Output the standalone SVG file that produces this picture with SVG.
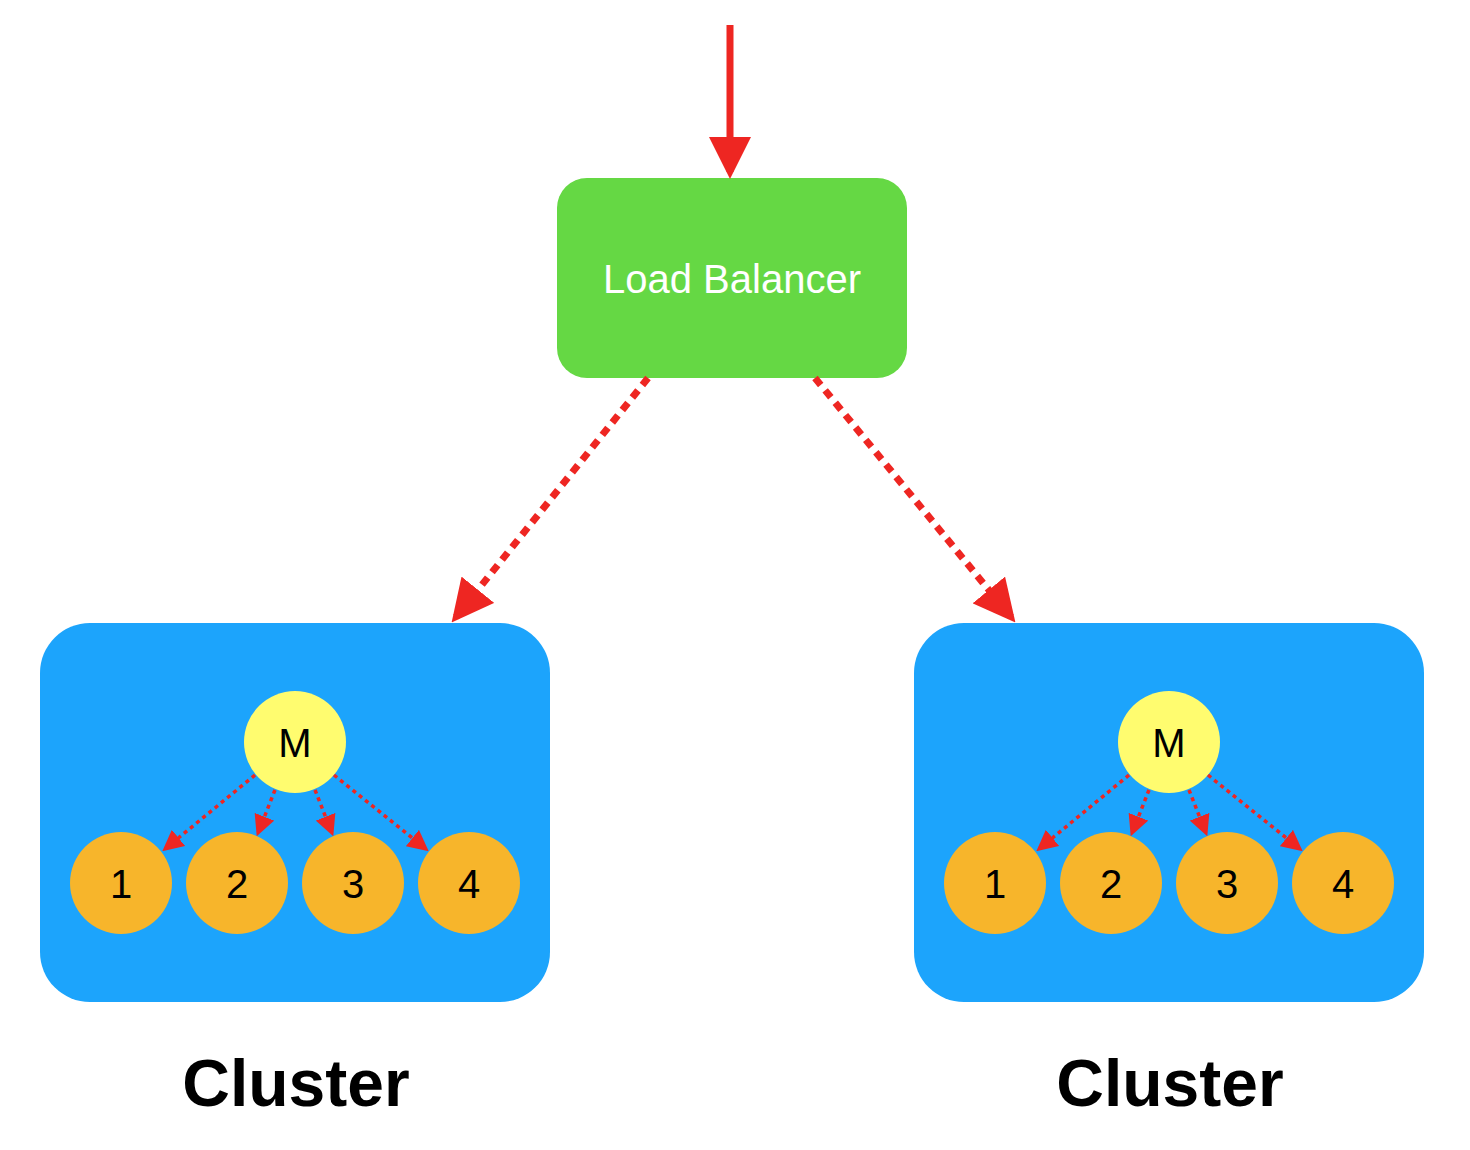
<svg xmlns="http://www.w3.org/2000/svg" width="1470" height="1150" viewBox="0 0 1470 1150">
<style>
.box{fill:#1ca4fc}
.m{fill:#fffc6f}
.w{fill:#f7b52b}
.t{font-family:"Liberation Sans",Arial,sans-serif;font-size:40px;text-anchor:middle;fill:#000}
.big{stroke:#ee2622;stroke-width:7;stroke-dasharray:9 7;fill:none}
.sm{stroke:#ee2622;stroke-width:3.5;stroke-dasharray:4 4;fill:none}
.lbl{font-family:"Liberation Sans",Arial,sans-serif;font-weight:bold;font-size:66px;text-anchor:middle}
</style>
<defs>
<marker id="ab" markerWidth="6" markerHeight="6" refX="5" refY="3" orient="auto" markerUnits="strokeWidth"><path d="M0,0 L6,3 L0,6 Z" fill="#ee2622"/></marker>
<marker id="as" markerWidth="6" markerHeight="6" refX="5" refY="3" orient="auto" markerUnits="strokeWidth"><path d="M0,0 L6,3 L0,6 Z" fill="#ee2622"/></marker>
</defs>
<g id="lb"><rect x="557" y="178" width="350" height="200" rx="30" fill="#65d844"/><text x="732" y="293" font-family="Liberation Sans,Arial,sans-serif" font-size="40" fill="#fff" text-anchor="middle">Load Balancer</text></g>
<g id="cluster1"><rect class="box" x="40" y="623" width="510" height="379" rx="50"/>
<circle class="m" cx="295" cy="742" r="51"/><text class="t" x="295" y="757">M</text>
<circle class="w" cx="121" cy="883" r="51"/><text class="t" x="121" y="898">1</text>
<circle class="w" cx="237" cy="883" r="51"/><text class="t" x="237" y="898">2</text>
<circle class="w" cx="353" cy="883" r="51"/><text class="t" x="353" y="898">3</text>
<circle class="w" cx="469" cy="883" r="51"/><text class="t" x="469" y="898">4</text>
</g>
<g id="cluster2"><rect class="box" x="914" y="623" width="510" height="379" rx="50"/>
<circle class="m" cx="1169" cy="742" r="51"/><text class="t" x="1169" y="757">M</text>
<circle class="w" cx="995" cy="883" r="51"/><text class="t" x="995" y="898">1</text>
<circle class="w" cx="1111" cy="883" r="51"/><text class="t" x="1111" y="898">2</text>
<circle class="w" cx="1227" cy="883" r="51"/><text class="t" x="1227" y="898">3</text>
<circle class="w" cx="1343" cy="883" r="51"/><text class="t" x="1343" y="898">4</text>
</g>
<text class="lbl" x="296" y="1106">Cluster</text>
<text class="lbl" x="1170" y="1106">Cluster</text>
<g id="connectors">
<line x1="730" y1="25" x2="730" y2="172" stroke="#ee2622" stroke-width="7" marker-end="url(#ab)"/>
<line class="big" x1="648" y1="378" x2="456" y2="617" marker-end="url(#ab)"/>
<line class="big" x1="815" y1="378" x2="1011" y2="617" marker-end="url(#ab)"/>
<g id="c1">
<line class="sm" x1="255" y1="775" x2="165" y2="849" marker-end="url(#as)"/>
<line class="sm" x1="275" y1="790" x2="258" y2="833" marker-end="url(#as)"/>
<line class="sm" x1="315" y1="790" x2="332" y2="833" marker-end="url(#as)"/>
<line class="sm" x1="334" y1="775" x2="426" y2="849" marker-end="url(#as)"/>
</g>
<g id="c2">
<line class="sm" x1="1129" y1="775" x2="1039" y2="849" marker-end="url(#as)"/>
<line class="sm" x1="1149" y1="790" x2="1132" y2="833" marker-end="url(#as)"/>
<line class="sm" x1="1189" y1="790" x2="1206" y2="833" marker-end="url(#as)"/>
<line class="sm" x1="1208" y1="775" x2="1300" y2="849" marker-end="url(#as)"/>
</g>
</g>
</svg>
